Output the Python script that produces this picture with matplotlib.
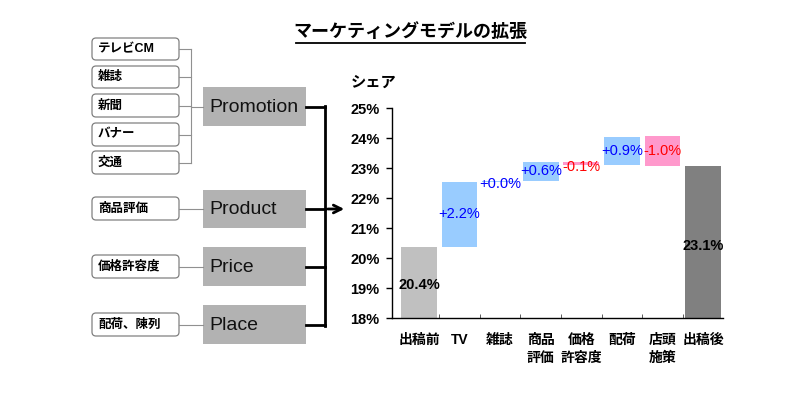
import numpy as np
import matplotlib
matplotlib.use("Agg")
import matplotlib.pyplot as plt
from matplotlib.patches import FancyBboxPatch, Rectangle

plt.rcParams['font.family'] = ['Liberation Sans', 'Noto Sans CJK JP', 'DejaVu Sans']

# ---- data ----
title = "マーケティングモデルの拡張"
categories = ["出稿前", "TV", "雑誌", "商品\n評価", "価格\n許容度", "配荷", "店頭\n施策", "出稿後"]
start_share = 20.37
deltas = [2.18, 0.02, 0.63, -0.09, 0.94, -0.99]
end_share = 23.06
y_ticks = [18, 19, 20, 21, 22, 23, 24, 25]

promo_items = ["テレビCM", "雑誌", "新聞", "バナー", "交通"]
groups = ["Promotion", "Product", "Price", "Place"]
group_items = [None, "商品評価", "価格許容度", "配荷、陳列"]

W, H = 810, 400
fig = plt.figure(figsize=(W / 100, H / 100), dpi=100)

# overlay axes in pixel coordinates for the diagram
bg = fig.add_axes([0, 0, 1, 1])
bg.set_xlim(0, W); bg.set_ylim(H, 0); bg.axis("off")

# title with underline
bg.text(410, 32, title, ha="center", va="center", fontsize=13, fontweight="bold")
bg.plot([296, 525], [43, 43], color="black", lw=1.3)

# small rounded boxes
def small_box(y0, y1, label):
    bg.add_patch(FancyBboxPatch((92, y0), 87, y1 - y0, boxstyle="round,pad=0,rounding_size=4",
                                fc="white", ec="#808080", lw=0.9))
    bg.text(98, (y0 + y1) / 2, label, ha="left", va="center", fontsize=9, fontweight="bold")

promo_y = [(38, 60), (66, 88), (94, 117), (123, 146), (151, 174)]
for (y0, y1), lab in zip(promo_y, promo_items):
    small_box(y0, y1, lab)
    bg.plot([179, 191], [(y0 + y1) / 2] * 2, color="#909090", lw=0.8)
bg.plot([191, 191], [49, 163], color="#909090", lw=0.8)
bg.plot([191, 203], [107, 107], color="#909090", lw=0.8)

group_y = [(87, 126), (190, 228), (247, 286), (305, 344)]
item_y = [None, (197, 220), (255, 278), (313, 336)]
for (y0, y1), g, it, iy in zip(group_y, groups, group_items, item_y):
    bg.add_patch(Rectangle((203, y0), 103, y1 - y0, fc="#B2B2B2", ec="none"))
    bg.text(209, (y0 + y1) / 2 + 1, g, ha="left", va="center", fontsize=14, color="#111111")
    bg.plot([306, 325], [(y0 + y1) / 2] * 2, color="black", lw=2)
    if it is not None:
        small_box(iy[0], iy[1], it)
        bg.plot([179, 203], [(iy[0] + iy[1]) / 2] * 2, color="#909090", lw=0.8)
bg.plot([325, 325], [106, 326], color="black", lw=2)
bg.annotate("", xy=(347, 209), xytext=(325, 209),
            arrowprops=dict(arrowstyle="->", lw=2, color="black", mutation_scale=14))

# y axis caption
bg.text(396, 83, "シェア", ha="right", va="center", fontsize=11, fontweight="bold")

# waterfall chart
ax = fig.add_axes([392 / W, (H - 318) / H, (723 - 392) / W, (318 - 108) / H])
x = np.arange(len(categories))
cum = start_share
bw = 0.88
ax.bar(0, start_share - 18, bottom=18, width=bw, color="#C0C0C0")
ax.text(0, 19.1, f"{start_share:.1f}%", ha="center", va="center", fontsize=10.5, fontweight="bold")
for i, d in enumerate(deltas, start=1):
    lo, hi = min(cum, cum + d), max(cum, cum + d)
    col = "#99CCFF" if d >= 0 else "#FF99CC"
    tcol = "#0000FF" if d >= 0 else "#FF0000"
    ax.bar(i, hi - lo, bottom=lo, width=bw, color=col)
    ty = (lo + hi) / 2 if hi - lo > 0.3 else lo - 0.08
    ax.text(i, ty, f"{d:+.1f}%", ha="center", va="center", fontsize=10.5, color=tcol)
    cum += d
ax.bar(7, end_share - 18, bottom=18, width=bw, color="#808080")
ax.text(7, 20.4, f"{end_share:.1f}%", ha="center", va="center", fontsize=10.5, fontweight="bold")

ax.set_ylim(18, 25)
ax.set_xlim(-0.665, 7.49)
ax.set_yticks(y_ticks)
ax.set_yticklabels([f"{v}%" for v in y_ticks], fontsize=10.5, fontweight="bold")
ax.set_xticks(x)
ax.set_xticklabels(categories, fontsize=10, fontweight="bold", linespacing=1.3, va="top")
ax.tick_params(axis="x", length=0, pad=11)
ax.tick_params(axis="y", length=4, direction="out", width=1, pad=5)
ax.set_xticks(np.arange(0.5, 7, 1), minor=True)
ax.tick_params(axis="x", which="minor", length=3, direction="in", color="#404040")
for s in ["top", "right"]:
    ax.spines[s].set_visible(False)
ax.spines["left"].set_linewidth(1)
ax.spines["bottom"].set_linewidth(1)

fig.savefig("out.png", dpi=100)
